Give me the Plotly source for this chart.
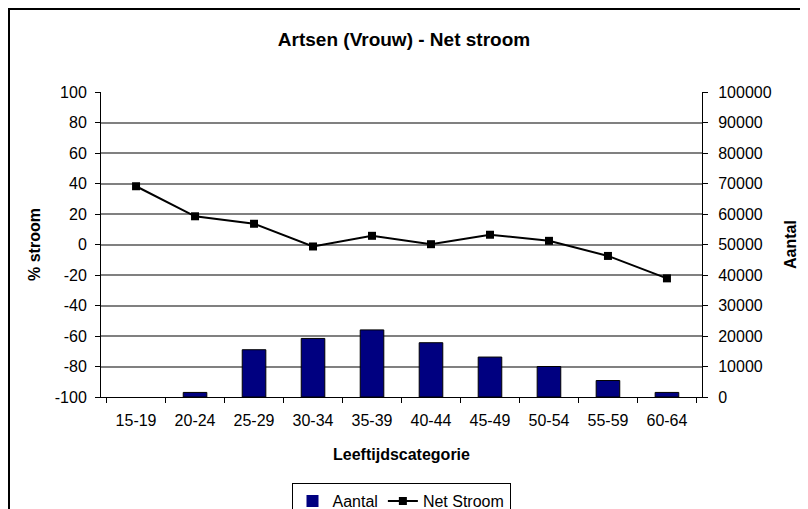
import plotly.graph_objects as go

categories = ["15-19", "20-24", "25-29", "30-34", "35-39", "40-44", "45-49", "50-54", "55-59", "60-64"]
aantal = [0, 1500, 15500, 19200, 22000, 17800, 13100, 10000, 5400, 1500]
net_stroom = [38.2, 18.5, 13.6, -1.3, 5.7, 0.2, 6.4, 2.4, -7.5, -22.2]
left_ticks = [-100, -80, -60, -40, -20, 0, 20, 40, 60, 80, 100]
right_ticks = [0, 10000, 20000, 30000, 40000, 50000, 60000, 70000, 80000, 90000, 100000]

# the page body has an 8px margin, so the figure starts at page (8, 8)
OFF = 8
W, H = 800, 540
L, T = 101 - OFF, 92 - OFF
pw, ph = 601, 305
R, B = W - L - pw, H - T - ph

font = "Liberation Sans, Arial, sans-serif"

def px_x(page_x):
    return (page_x - OFF - L) / pw

def px_y(page_y):
    return 1 - (page_y - OFF - T) / ph

fig = go.Figure()
fig.add_trace(go.Bar(
    x=categories, y=aantal, name="Aantal", yaxis="y",
    marker=dict(color="#000080",
                line=dict(color="black", width=[0 if v == 0 else 1 for v in aantal])),
    width=0.4,
))
fig.add_trace(go.Scatter(
    x=categories, y=net_stroom, name="Net Stroom", yaxis="y2",
    mode="lines+markers",
    line=dict(color="black", width=2),
    marker=dict(symbol="square", size=8, color="black"),
))

fig.update_layout(
    width=W, height=H,
    margin=dict(l=L, r=R, t=T, b=B, autoexpand=False),
    paper_bgcolor="white", plot_bgcolor="white",
    font=dict(family=font, size=16, color="black"),
    title=dict(text="<b>Artsen (Vrouw) - Net stroom</b>", x=px_x(404), xanchor="center",
               xref="paper", y=1 - (39 - OFF) / H, yanchor="middle", font=dict(size=19)),
    showlegend=True,
    legend=dict(orientation="h", x=px_x(401), xanchor="center", y=px_y(483),
                yanchor="top", bordercolor="black", borderwidth=1,
                font=dict(size=16), tracegroupgap=0),
    xaxis=dict(
        type="category", tickson="boundaries", ticks="outside", ticklen=5,
        tickcolor="black", showline=True, linecolor="black", linewidth=1,
        showgrid=False, tickfont=dict(size=16), ticklabelstandoff=9,
        title=dict(text="<b>Leeftijdscategorie</b>", font=dict(size=16), standoff=20),
    ),
    yaxis=dict(
        side="right", range=[0, 100000], tickvals=right_ticks,
        ticktext=[str(v) for v in right_ticks],
        ticks="outside", ticklen=5, tickcolor="black",
        showline=True, linecolor="black", linewidth=1,
        showgrid=False, zeroline=False, tickfont=dict(size=16), ticklabelstandoff=7,
        title=dict(text="<b>Aantal</b>", font=dict(size=16), standoff=14),
    ),
    yaxis2=dict(
        side="left", overlaying="y", range=[-100, 100], tickvals=left_ticks,
        ticktext=[str(v) for v in left_ticks],
        ticks="outside", ticklen=5, tickcolor="black",
        showline=True, linecolor="black", linewidth=1,
        showgrid=True, gridcolor="#808080", gridwidth=1.5, zeroline=False,
        tickfont=dict(size=16), ticklabelstandoff=5,
        title=dict(text="<b>% stroom</b>", font=dict(size=16), standoff=10),
    ),
    shapes=[
        dict(type="rect", xref="paper", yref="paper",
             x0=(1 - L) / pw, x1=(W + 20 - L) / pw,
             y0=-(H + 20 - T - ph) / ph, y1=1 + (T - 1) / ph,
             line=dict(color="black", width=2), layer="below"),
    ],
)

fig.write_html("out.html")
